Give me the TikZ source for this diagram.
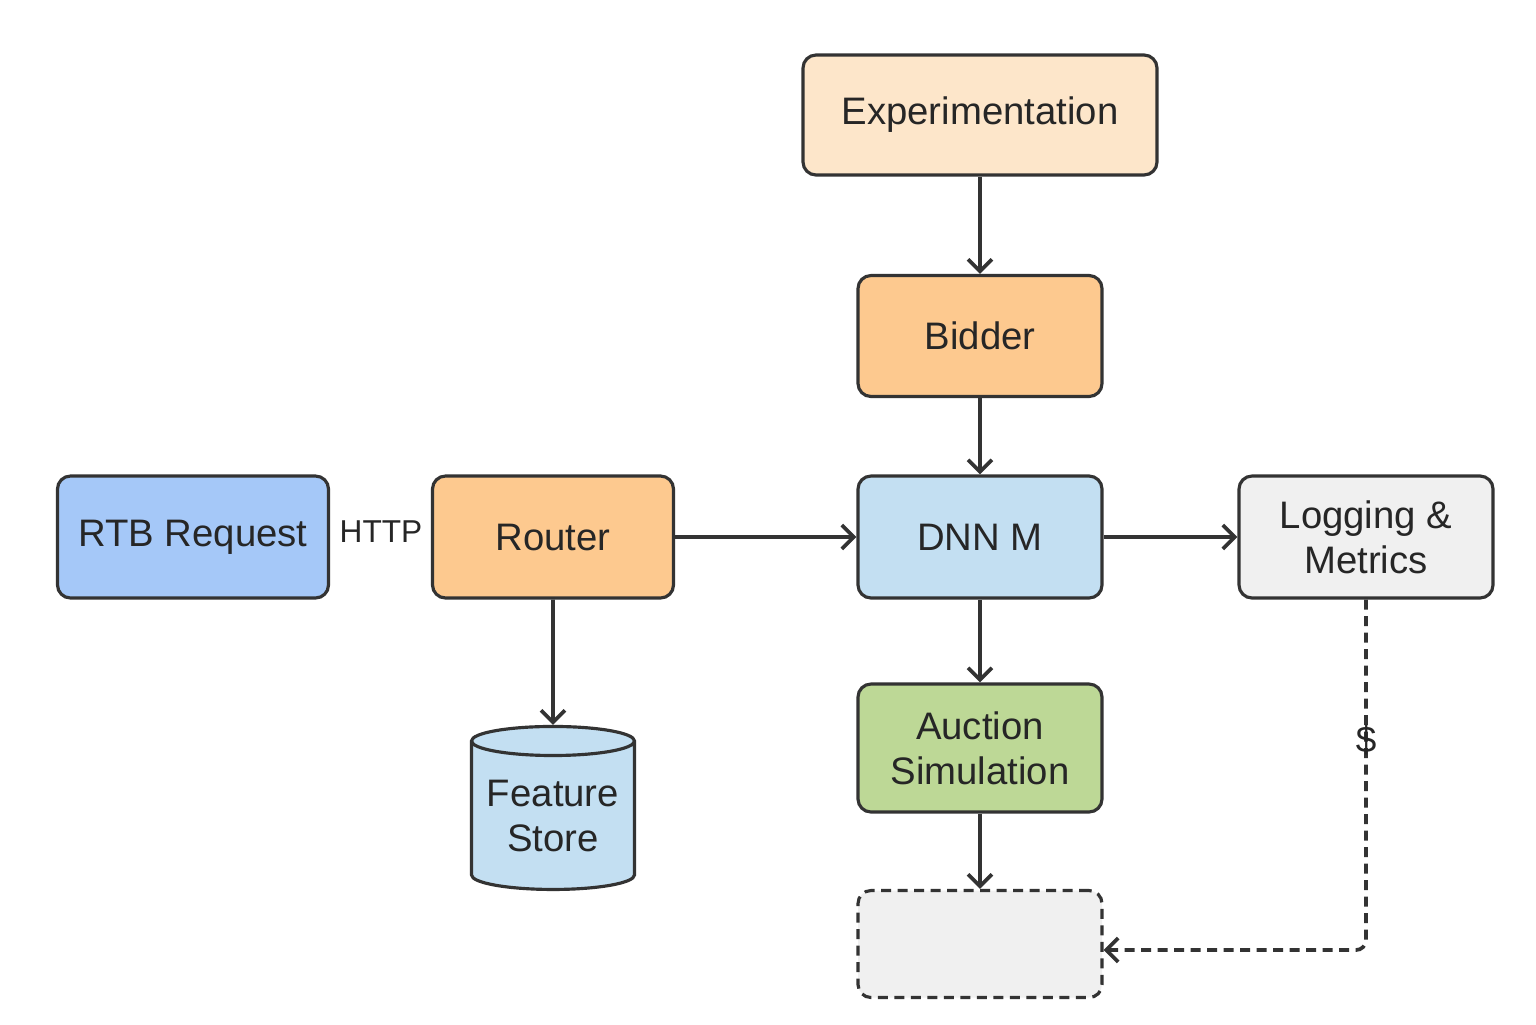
\documentclass[tikz,border=0pt]{standalone}
\usepackage{fontspec}
\setmainfont{Liberation Sans}
\usetikzlibrary{shapes.geometric,arrows.meta}

\definecolor{inkgray}{HTML}{333333}
\definecolor{expcol}{HTML}{FDE6CA}
\definecolor{orangecol}{HTML}{FDC98F}
\definecolor{rtbcol}{HTML}{A5C8F8}
\definecolor{bluecol}{HTML}{C3DFF2}
\definecolor{graycol}{HTML}{F0F0F0}
\definecolor{greencol}{HTML}{BDD896}

\begin{document}
\begin{tikzpicture}[node distance=2.1cm, thick,
	main node/.style={rectangle,rounded corners=0.13cm,draw=inkgray,line width=0.9pt,
		text=black!85,font=\fontsize{10.9}{12.8}\selectfont,align=center,
		minimum width=2.44cm,minimum height=1.22cm},
	db node/.style={cylinder,shape border rotate=90,aspect=0.22,draw=inkgray,line width=0.9pt,
		fill=bluecol,text=black!85,font=\fontsize{10.9}{12.8}\selectfont,align=center,
		minimum width=1.63cm,minimum height=1.63cm,inner sep=0pt},
	flow/.style={draw=inkgray,line width=1.05pt,-{Straight Barb[length=1.2mm,width=2.4mm]}},
	tag/.style={text=black!85,font=\fontsize{9}{10}\selectfont}]
	
	\useasboundingbox (0,0) rectangle (15.36,-10.24);
	
	\node[main node,fill=expcol,minimum width=3.54cm,minimum height=1.2cm] (exp) at (9.8,-1.15) {Experimentation};
	\node[main node,fill=orangecol,minimum height=1.21cm] (bidder) [below of=exp, node distance=2.21cm] {Bidder};
	\node[main node,fill=bluecol] (dnn) [below of=bidder, node distance=2.01cm] {DNN M};
	\node[main node,fill=orangecol,minimum width=2.41cm] (router) [left of=dnn, node distance=4.27cm] {Router};
	\node[main node,fill=rtbcol,minimum width=2.71cm] (rtb) [left of=router, node distance=3.6cm] {RTB Request};
	\node[main node,fill=graycol,minimum width=2.54cm] (log) [right of=dnn, node distance=3.86cm] {Logging \&\\Metrics};
	\node[main node,fill=greencol,minimum height=1.28cm] (auction) [below of=dnn, node distance=2.11cm] {Auction\\Simulation};
	\node[main node,fill=graycol,dashed,dash pattern=on 0.1cm off 0.065cm,minimum height=1.07cm] (sink) [below of=auction, node distance=1.96cm] {};
	\node[db node] (store) [below of=router, node distance=2.79cm] {Feature\\Store};
	
	\node[tag] (http) at (3.81,-5.32) {HTTP};
	
	\path (exp) edge[flow] (bidder)
	(bidder) edge[flow] (dnn)
	(router) edge[flow] (dnn)
	edge[flow] (store)
	(dnn) edge[flow] (log)
	edge[flow] (auction)
	(auction) edge[flow] (sink);
	
	\draw[flow,dash pattern=on 0.1cm off 0.065cm,rounded corners=0.1cm] (log.south) |- ([yshift=-0.06cm]sink.east)
	node[tag,pos=0.2,font=\fontsize{10.5}{12}\selectfont] (cost) {\$};
\end{tikzpicture}
\end{document}
